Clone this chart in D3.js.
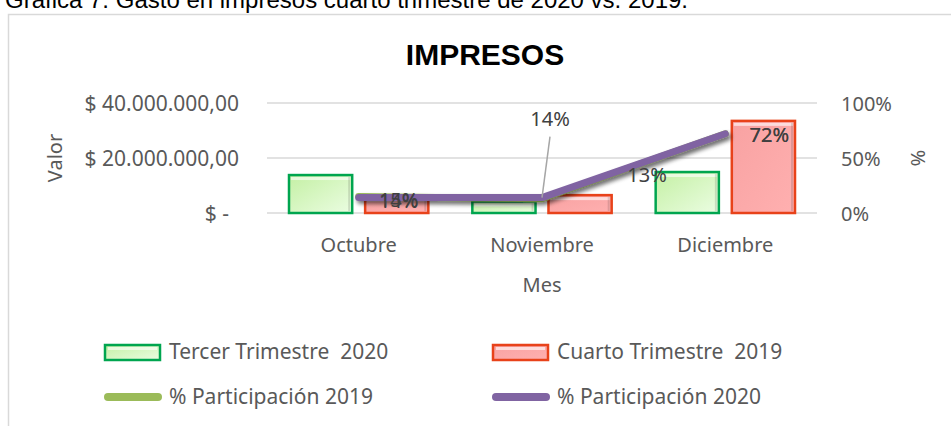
<!DOCTYPE html>
<html>
<head>
<meta charset="utf-8">
<script src="https://cdn.jsdelivr.net/npm/d3@7"></script>
<style>
  body { margin: 0; background: #fff; }
  svg { display: block; }
  text { font-family: "Noto Sans", sans-serif; fill: #595959; }
</style>
</head>
<body>
<div id="chartId"></div>
<script>

// Chart data

var months = ["Octubre", "Noviembre", "Diciembre"];
var seriesNames = ["Tercer Trimestre  2020", "Cuarto Trimestre  2019"];
var tercer2020 = [13800000, 4200000, 14900000];
var cuarto2019 = [6000000, 6500000, 33500000];
var pct2019 = [0.15, 0.13, 0.72];
var pct2020 = [0.14, 0.14, 0.72];
var lineNames = ["% Participación 2019", "% Participación 2020"];
var valueTicks = [0, 20000000, 40000000];
var pctTicks = [0, 0.5, 1];


(function() {

    "use strict";

    var W = 951, H = 426;
    var plot = {left: 267, right: 817, top: 103, bottom: 213};

    var svg = d3.select("#chartId").append("svg")
        .attr("width", W).attr("height", H);

    var defs = svg.append("defs");
    addDefs(defs);

    // caption of the figure, cut by the top of the picture
    svg.append("text").attr("x", 5).attr("y", 8)
        .style("font-family", "'Liberation Sans', Arial, sans-serif")
        .style("font-size", "24px").style("fill", "#000")
        .text("Gráfica 7. Gasto en impresos cuarto trimestre de 2020 vs. 2019.");

    svg.append("rect").attr("x", 8.5).attr("y", 14.5)
        .attr("width", W + 20).attr("height", H + 20)
        .attr("fill", "#fff").attr("stroke", "#d9d9d9").attr("stroke-width", 1.5);

    svg.append("text").attr("x", 485).attr("y", 65).attr("text-anchor", "middle")
        .style("font-family", "'Liberation Sans', Arial, sans-serif")
        .style("font-size", "30px").style("font-weight", "bold").style("fill", "#000")
        .text("IMPRESOS");

    var x0 = d3.scaleBand().domain(months).range([plot.left, plot.right]).padding(0);
    var x1 = d3.scaleBand().domain(seriesNames).range([22, x0.bandwidth() - 22]).paddingInner(0.17);
    var yVal = d3.scaleLinear().domain([0, 40000000]).range([plot.bottom, plot.top]);
    var yPct = d3.scaleLinear().domain([0, 1]).range([plot.bottom, plot.top]);

    drawAxes(x0, yVal, yPct);
    drawBars(x0, x1, yVal);
    drawLines(x0, yPct);
    drawLegend();


    function addDefs(defs) {
        var g = defs.append("linearGradient").attr("id", "gradGreen")
            .attr("x1", 0).attr("y1", 0).attr("x2", 1).attr("y2", 1);
        g.append("stop").attr("offset", "0%").attr("stop-color", "#c4f0a4");
        g.append("stop").attr("offset", "100%").attr("stop-color", "#ebfde2");

        var r = defs.append("linearGradient").attr("id", "gradRed")
            .attr("x1", 0).attr("y1", 0).attr("x2", 1).attr("y2", 1);
        r.append("stop").attr("offset", "0%").attr("stop-color", "#f8a2a2");
        r.append("stop").attr("offset", "100%").attr("stop-color", "#ffb0b0");

        var f = defs.append("filter").attr("id", "shadow")
            .attr("x", "-10%").attr("y", "-50%").attr("width", "130%").attr("height", "250%");
        f.append("feDropShadow").attr("dx", 2).attr("dy", 3)
            .attr("stdDeviation", 2).attr("flood-color", "#000").attr("flood-opacity", 0.35);
    }


    function drawAxes(x0, yVal, yPct) {

        var grid = svg.append("g");
        grid.selectAll("line").data(valueTicks).enter().append("line")
            .attr("x1", plot.left).attr("x2", plot.right)
            .attr("y1", function(d) { return yVal(d); })
            .attr("y2", function(d) { return yVal(d); })
            .attr("stroke", "#d9d9d9").attr("stroke-width", 1.5);

        var leftAxis = d3.axisLeft(yVal).tickValues(valueTicks).tickSize(0).tickPadding(0)
            .tickFormat(function(d) {
                return d === 0 ? "$ -" : "$ " + d3.format(",.2f")(d).replace(/,/g, "#").replace(".", ",").replace(/#/g, ".");
            });
        var gl = svg.append("g").attr("transform", "translate(239,0)").call(leftAxis);
        gl.select(".domain").remove();
        gl.selectAll("text").style("font-size", "21px").style("fill", "#595959").attr("dy", "0.35em");
        gl.selectAll(".tick").filter(function(d) { return d === 0; })
            .select("text").attr("x", -10);

        var rightAxis = d3.axisRight(yPct).tickValues(pctTicks).tickSize(0).tickPadding(0)
            .tickFormat(d3.format(".0%"));
        var gr = svg.append("g").attr("transform", "translate(841,0)").call(rightAxis);
        gr.select(".domain").remove();
        gr.selectAll("text").style("font-size", "20px").style("fill", "#595959").attr("dy", "0.35em");

        var bottomAxis = d3.axisBottom(x0).tickSize(0).tickPadding(0);
        var gb = svg.append("g").attr("transform", "translate(0," + (plot.bottom + 25) + ")").call(bottomAxis);
        gb.select(".domain").remove();
        gb.selectAll("text").style("font-size", "20px").style("fill", "#595959").attr("dy", "0.7em");

        svg.append("text").attr("transform", "translate(62,158) rotate(-90)")
            .attr("text-anchor", "middle").style("font-size", "20px").text("Valor");
        svg.append("text").attr("transform", "translate(911,158) rotate(90)")
            .attr("text-anchor", "middle").style("font-size", "20px").text("%");
        svg.append("text").attr("x", (plot.left + plot.right) / 2).attr("y", 292)
            .attr("text-anchor", "middle").style("font-size", "20px").text("Mes");
    }


    function bevelBar(g, x, y, w, h, fill, stroke) {
        g.append("rect").attr("x", x).attr("y", y).attr("width", w).attr("height", h)
            .attr("fill", fill).attr("stroke", stroke).attr("stroke-width", 2.5);
        if (h > 8) {
            g.append("rect").attr("x", x + 2).attr("y", y + 2).attr("width", w - 4).attr("height", 3)
                .attr("fill", "#fff").attr("opacity", 0.6);
            g.append("rect").attr("x", x + w - 4).attr("y", y + 2).attr("width", 2).attr("height", h - 4)
                .attr("fill", "#000").attr("opacity", 0.12);
        }
    }


    function drawBars(x0, x1, yVal) {
        var barGroup = svg.append("g");
        var series = [
            {name: seriesNames[0], values: tercer2020, fill: "url(#gradGreen)", stroke: "#00a54f"},
            {name: seriesNames[1], values: cuarto2019, fill: "url(#gradRed)", stroke: "#e8421a"}
        ];
        series.forEach(function(s) {
            s.values.forEach(function(v, i) {
                var x = x0(months[i]) + x1(s.name);
                bevelBar(barGroup, x, yVal(v), x1.bandwidth(), yVal(0) - yVal(v), s.fill, s.stroke);
            });
        });
    }


    function drawLines(x0, yPct) {
        var cx = function(d, i) { return x0(months[i]) + x0.bandwidth() / 2; };
        var line = d3.line().x(cx).y(function(d) { return yPct(d); });

        var lg = svg.append("g");
        lg.append("path").datum(pct2019).attr("d", line)
            .attr("fill", "none").attr("stroke", "#9bbb59").attr("stroke-width", 7)
            .attr("stroke-linecap", "round").attr("stroke-linejoin", "round")
            .attr("filter", "url(#shadow)");
        lg.append("path").datum(pct2020).attr("d", line)
            .attr("fill", "none").attr("stroke", "#8064a2").attr("stroke-width", 7)
            .attr("stroke-linecap", "round").attr("stroke-linejoin", "round")
            .attr("filter", "url(#shadow)");

        // data labels, moved by hand in the original
        var fmt = d3.format(".0%");
        var offs2019 = [[40, 3], [105, -24], [44, 1]];
        var offs2020 = [[40, 3], [8, -79], [44, 1]];

        // leader line for the moved label of Noviembre
        lg.append("line")
            .attr("x1", cx(null, 1) + 8).attr("y1", yPct(pct2020[1]) - 61)
            .attr("x2", cx(null, 1)).attr("y2", yPct(pct2020[1]))
            .attr("stroke", "#a6a6a6").attr("stroke-width", 1.5);

        [[pct2019, offs2019], [pct2020, offs2020]].forEach(function(p) {
            lg.selectAll(null).data(p[0]).enter().append("text")
                .attr("x", function(d, i) { return cx(d, i) + p[1][i][0]; })
                .attr("y", function(d, i) { return yPct(d) + p[1][i][1]; })
                .attr("dy", "0.35em").attr("text-anchor", "middle")
                .style("font-size", "20px").style("fill", "#404040")
                .text(fmt);
        });
    }


    function drawLegend() {
        var lg = svg.append("g");
        var cols = [105, 493];
        var rows = [352, 397];

        [{fill: "url(#gradGreen)", stroke: "#00a54f"}, {fill: "url(#gradRed)", stroke: "#e8421a"}]
            .forEach(function(s, i) {
                lg.append("rect").attr("x", cols[i]).attr("y", rows[0] - 7)
                    .attr("width", 55).attr("height", 15)
                    .attr("fill", s.fill).attr("stroke", s.stroke).attr("stroke-width", 2.5);
                lg.append("rect").attr("x", cols[i] + 3).attr("y", rows[0] - 5)
                    .attr("width", 49).attr("height", 3).attr("fill", "#fff").attr("opacity", 0.6);
                lg.append("text").attr("x", cols[i] + 64).attr("y", rows[0]).attr("dy", "0.35em")
                    .style("font-size", "21px").style("white-space", "pre").text(seriesNames[i]);
            });

        ["#9bbb59", "#8064a2"].forEach(function(c, i) {
            lg.append("line").attr("x1", cols[i] + 3).attr("x2", cols[i] + 53)
                .attr("y1", rows[1]).attr("y2", rows[1])
                .attr("stroke", c).attr("stroke-width", 8).attr("stroke-linecap", "round");
            lg.append("text").attr("x", cols[i] + 64).attr("y", rows[1]).attr("dy", "0.35em")
                .style("font-size", "21px").text(lineNames[i]);
        });
    }

})();

</script>
</body>
</html>
